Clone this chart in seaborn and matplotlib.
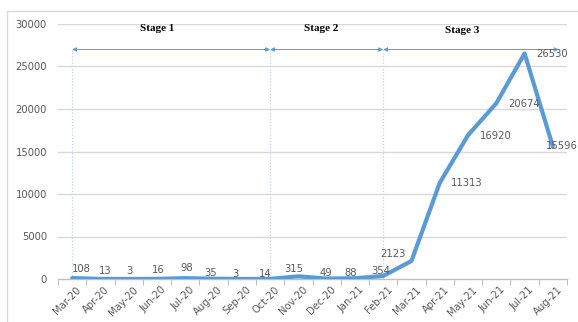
import matplotlib
matplotlib.use("Agg")
import matplotlib.pyplot as plt
import matplotlib.patches as mpatches
import seaborn as sns
import pandas as pd
import numpy as np

months = ["Mar-20", "Apr-20", "May-20", "Jun-20", "Jul-20", "Aug-20", "Sep-20",
          "Oct-20", "Nov-20", "Dec-20", "Jan-21", "Feb-21", "Mar-21", "Apr-21",
          "May-21", "Jun-21", "Jul-21", "Aug-21"]
cases = [108, 13, 3, 16, 98, 35, 3, 14, 315, 49, 88, 354, 2123, 11313,
         16920, 20674, 26530, 15596]
y_ticks = [0, 5000, 10000, 15000, 20000, 25000, 30000]
stage_names = ["Stage 1", "Stage 2", "Stage 3"]
stage_bounds = [("Mar-20", "Oct-20"), ("Oct-20", "Feb-21"), ("Feb-21", "Aug-21")]
stage_level = 27000

# label offsets in pixels (style)
label_offsets = [(9, 9), (5, 8), (1, 8), (1, 9), (1, 10), (-3, 6), (-6, 5), (-5, 5),
                 (-5, 7), (-1, 6), (-4, 5), (-2, 5), (-19, 7), (27, 0), (28, -1),
                 (28, -1), (27, -1), (9, 0)]

df = pd.DataFrame({"month": months, "cases": cases})
df["pos"] = np.arange(len(months))

sns.set_theme(style="white")
plt.rcParams["font.family"] = ["DejaVu Sans"]

fig = plt.figure(figsize=(5.78, 3.22), dpi=100)
ax = fig.add_axes([58 / 578, 1 - 279 / 322, (567 - 58) / 578, (279 - 24) / 322])

# figure frame (top & left visible)
fig.patches.append(mpatches.Rectangle((7 / 578, -0.2), 1.3, 1.2 - 11 / 322,
                                      transform=fig.transFigure, fill=False,
                                      edgecolor="#D9D9D9", lw=1.0, zorder=0))

gray = "#595959"
blue = "#5B9BD5"

for t in y_ticks[1:]:
    ax.axhline(t, color="#D9D9D9", lw=1.0, zorder=0)

sns.lineplot(data=df, x="pos", y="cases", ax=ax, color=blue, lw=3.0,
             solid_joinstyle="round", solid_capstyle="round", zorder=3)

# vertical dotted stage lines
pos_of = {m: i for i, m in enumerate(months)}
for m in ["Mar-20", "Oct-20", "Feb-21"]:
    ax.plot([pos_of[m], pos_of[m]], [0, stage_level], color="#BDD7EE", lw=0.9,
            ls=(0, (1, 1.5)), zorder=1)

# stage arrows and names
name_x = [3.0, 8.8, 13.8]
name_y = [29500, 29500, 29250]
for (a, b), nm, nx, ny in zip(stage_bounds, stage_names, name_x, name_y):
    xa, xb = pos_of[a], pos_of[b]
    if b == "Aug-21":
        xb = xb + 0.2
    ax.annotate("", xy=(xb, stage_level), xytext=(xa, stage_level),
                arrowprops=dict(arrowstyle="<|-|>", color=blue, lw=0.7,
                                mutation_scale=6, shrinkA=0, shrinkB=0))
    ax.text(nx, ny, nm, ha="center", va="center", fontsize=8,
            fontweight="bold", family="Liberation Serif", color="black")

# data labels
for i, (v, (dx, dy)) in enumerate(zip(cases, label_offsets)):
    ax.annotate(str(v), xy=(i, v), xytext=(dx, dy), textcoords="offset pixels",
                ha="center", va="center", fontsize=7.2, color=gray, zorder=4,
                annotation_clip=False)

ax.set_xlim(-0.5, len(months) - 0.5)
ax.set_ylim(0, 30000)
ax.set_yticks(y_ticks)
ax.set_yticklabels([str(t) for t in y_ticks], fontsize=7.2, color=gray)
ax.set_xticks(df["pos"])
ax.set_xticklabels(months, rotation=45, ha="right", rotation_mode="anchor",
                   fontsize=7.2, color=gray)
ax.set_xticks(np.arange(-0.5, len(months), 1.0), minor=True)
ax.tick_params(axis="x", which="major", length=0, pad=4)
ax.tick_params(axis="x", which="minor", length=4, color="#BFBFBF", width=0.8,
               direction="out", bottom=True)
ax.tick_params(axis="y", length=0, pad=8)
for t in ax.get_xticklabels():
    t.set_transform(t.get_transform() + matplotlib.transforms.ScaledTranslation(
        4 / 100, 0, fig.dpi_scale_trans))
ax.set_xlabel("")
ax.set_ylabel("")
for s in ["top", "right", "left"]:
    ax.spines[s].set_visible(False)
ax.spines["bottom"].set_color("#BFBFBF")
ax.spines["bottom"].set_linewidth(1.0)
ax.set_facecolor("white")
fig.patch.set_facecolor("white")

fig.savefig("out.png", dpi=100)
